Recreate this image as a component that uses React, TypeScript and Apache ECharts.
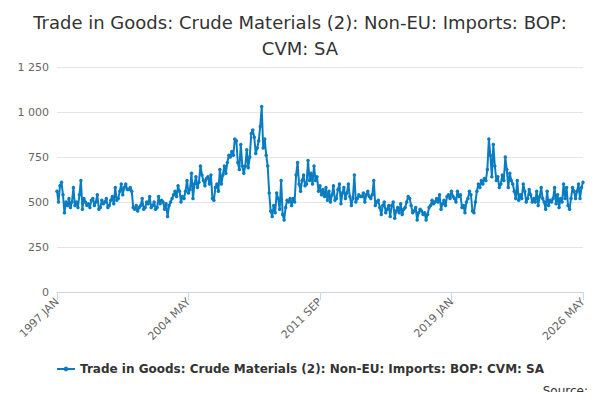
import { useEffect, useRef } from 'react'
import * as echarts from 'echarts'

const START_YEAR = 1997
const MONTHS = ['JAN', 'FEB', 'MAR', 'APR', 'MAY', 'JUN', 'JUL', 'AUG', 'SEP', 'OCT', 'NOV', 'DEC']

// monthly values, 1997 JAN .. 2026 MAY
const values: number[] = [
  560, 500, 590, 610, 540, 440, 500, 480, 520, 470, 500, 580,
  480, 500, 470, 540, 620, 460, 520, 500, 480, 490, 470, 510,
  520, 480, 500, 540, 460, 470, 510, 490, 500, 520, 470, 480,
  510, 530, 490, 580, 510, 520, 560, 600, 540, 580, 600, 570,
  570, 580, 560, 470, 460, 480, 450, 470, 480, 520, 460, 470,
  500, 490, 530, 470, 480, 500, 460, 470, 530, 490, 510, 500,
  460, 490, 420, 480, 500, 520, 540, 560, 530, 590, 560, 500,
  530, 520, 560, 620, 550, 570, 660, 520, 600, 640, 580, 610,
  700, 650, 620, 590, 630, 640, 600, 650, 520, 510, 580, 600,
  560, 680, 600, 650, 700, 660, 720, 760, 750, 780, 760, 850,
  840, 720, 680, 820, 700, 660, 700, 790, 690, 750, 880, 900,
  860, 770, 800, 840, 920, 1030, 800, 850, 760, 700, 550, 450,
  420, 480, 440, 550, 520, 460, 620, 430, 400, 470, 510, 500,
  520, 480, 520, 500, 650, 720, 600, 560, 620, 650, 590, 600,
  730, 620, 660, 600, 700, 620, 640, 560, 590, 540, 570, 530,
  580, 510, 560, 500, 540, 590, 510, 520, 570, 600, 490, 550,
  580, 520, 550, 600, 530, 480, 520, 650, 500, 520, 540, 530,
  530, 550, 500, 540, 560, 530, 520, 540, 620, 480, 500, 510,
  470, 430, 480, 500, 440, 460, 480, 420, 480, 500, 410, 450,
  470, 440, 490, 430, 460, 470, 500, 530, 520, 480, 440, 450,
  470, 400, 440, 460, 450, 430, 440, 400, 430, 470, 480, 510,
  490, 500, 520, 500, 540, 460, 490, 510, 480, 530, 540, 520,
  560, 530, 520, 500, 560, 530, 540, 470, 480, 440, 500, 520,
  560, 540, 450, 440, 500, 560, 600, 580, 620, 600, 630, 620,
  680, 850, 760, 640, 820, 700, 620, 640, 580, 600, 650, 620,
  750, 680, 580, 660, 620, 600, 560, 520, 620, 510, 540, 520,
  600, 560, 500, 520, 570, 540, 500, 520, 500, 560, 480, 530,
  580, 520, 500, 460, 560, 480, 510, 500, 520, 580, 490, 540,
  470, 520, 500, 600, 520, 580, 480, 460, 520, 580, 560, 520,
  560, 600, 520, 580, 610,
]

const categories = values.map(
  (_, i) => `${START_YEAR + Math.floor(i / 12)} ${MONTHS[i % 12]}`,
)

const SERIES_NAME = 'Trade in Goods: Crude Materials (2): Non-EU: Imports: BOP: CVM: SA'

export default function App() {
  const ref = useRef<HTMLDivElement>(null)

  useEffect(() => {
    if (!ref.current) return
    const chart = echarts.init(ref.current, undefined, { renderer: 'svg' })
    chart.setOption({
      animation: false,
      textStyle: { fontFamily: 'DejaVu Sans' },
      title: {
        text: 'Trade in Goods: Crude Materials (2): Non-EU: Imports: BOP:\nCVM: SA',
        left: 'center',
        top: 4,
        textStyle: { fontSize: 18, fontWeight: 'normal', color: '#333', lineHeight: 26 },
      },
      legend: {
        bottom: 20,
        left: 'center',
        data: [SERIES_NAME],
        itemWidth: 18,
        itemHeight: 6,
        textStyle: { fontSize: 12, fontWeight: 'bold', color: '#333' },
      },
      graphic: [
        {
          type: 'text',
          right: 12,
          bottom: 3,
          style: { text: 'Source:', fontSize: 12, fill: '#333', fontFamily: 'DejaVu Sans' },
        },
      ],
      grid: { left: 57, right: 17, top: 67, bottom: 108 },
      xAxis: {
        type: 'category',
        data: categories,
        boundaryGap: false,
        axisLine: { lineStyle: { color: '#ccd6eb' } },
        axisTick: { interval: 87, length: 8, lineStyle: { color: '#ccd6eb' } },
        axisLabel: { interval: 87, rotate: 45, color: '#666', fontSize: 11 },
      },
      yAxis: {
        type: 'value',
        min: 0,
        max: 1250,
        interval: 250,
        axisLabel: {
          color: '#666',
          fontSize: 11,
          formatter: (v: number) => v.toLocaleString('en-US').replace(',', ' '),
        },
        splitLine: { lineStyle: { color: '#e6e6e6' } },
      },
      series: [
        {
          name: SERIES_NAME,
          type: 'line',
          data: values,
          symbol: 'circle',
          symbolSize: 3.5,
          showAllSymbol: true,
          lineStyle: { color: '#0a7dc2', width: 2 },
          itemStyle: { color: '#0a7dc2' },
        },
      ],
    })
    return () => chart.dispose()
  }, [])

  return <div ref={ref} style={{ width: 600, height: 400, margin: -8 }} />
}
